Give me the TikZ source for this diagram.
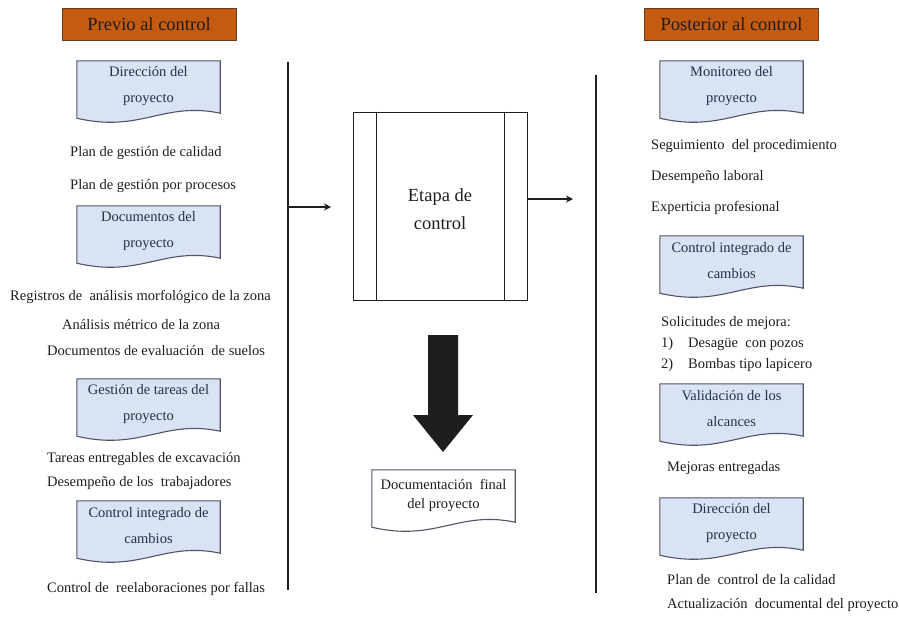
\documentclass[tikz,border=0pt]{standalone}
\usepackage{fontspec}
\setmainfont{Liberation Serif}
\usetikzlibrary{backgrounds,arrows.meta}
\definecolor{docfill}{HTML}{DAE3F3}
\definecolor{docline}{HTML}{4D5566}
\definecolor{docink}{HTML}{25304A}
\definecolor{headfill}{HTML}{C55A11}
\definecolor{headline}{HTML}{6B3A1A}
\definecolor{ink}{HTML}{1E1E1E}

% marco de documento (borde inferior ondulado) detras del nodo
\newcommand{\docframe}[2]{%
  \begin{pgfonlayer}{background}
  \draw[draw=docline, line width=1.1pt, fill=#2] (#1.north west) -- (#1.north east) -- ([yshift=-2pt]#1.south east)
    .. controls ([xshift=-57pt,yshift=10pt]#1.south east) and ([xshift=64pt,yshift=-22pt]#1.south west) .. ([yshift=-7pt]#1.south west) -- cycle;
  \end{pgfonlayer}}

\begin{document}
\begin{tikzpicture}[x=1pt,y=-1pt]
\tikzstyle{docbox}=[minimum width=143pt, minimum height=50pt, inner sep=2pt, align=center, text=docink, font=\fontsize{14.5}{26}\selectfont]
\tikzstyle{header}=[draw=headline, line width=0.8pt, fill=headfill, minimum width=174pt, minimum height=32pt, text=ink, font=\fontsize{18.5}{22}\selectfont]
\tikzstyle{item}=[anchor=west, inner sep=0pt, text=ink, font=\fontsize{14.5}{21}\selectfont]
\tikzstyle{bar}=[draw=ink, line width=1.6pt]
\tikzstyle{flow}=[draw=ink, line width=1.5pt, -{Stealth[length=7pt,width=7pt]}]
\useasboundingbox (0,0) rectangle (899,616);

% encabezados
\node[header] (previo) at (149,24) {Previo al control};
\node[header] (posterior) at (731.5,24) {Posterior al control};

% previo al control
\node[docbox] (dirA) at (148.5,86) {Dirección del\\proyecto};
\docframe{dirA}{docfill}
\node[item] (plancal) at (70,153) {Plan de gestión de calidad};
\node[item] (planproc) at (70,186) {Plan de gestión por procesos};
\node[docbox] (docproy) at (148.5,231) {Documentos del\\proyecto};
\docframe{docproy}{docfill}
\node[item] (registros) at (10,297) {Registros de \ análisis morfológico de la zona};
\node[item] (metrico) at (62,325) {Análisis métrico de la zona};
\node[item] (suelos) at (47,351) {Documentos de evaluación \ de suelos};
\node[docbox] (tareas) at (148.5,404) {Gestión de tareas del\\proyecto};
\docframe{tareas}{docfill}
\node[item] (entregables) at (47,459) {Tareas entregables de excavación};
\node[item] (trabajadores) at (47,483) {Desempeño de los \ trabajadores};
\node[docbox] (cambiosA) at (148.5,526) {Control integrado de\\cambios};
\docframe{cambiosA}{docfill}
\node[item] (reelab) at (47,589) {Control de \ reelaboraciones por fallas};

% etapa de control
\node[draw=ink, line width=0.9pt, minimum width=174pt, minimum height=188pt, text=ink] (etapa) at (440,206) {};
\node[align=center, text=ink, font=\fontsize{18.5}{28}\selectfont] (etapatxt) at (440,209) {Etapa de\\control};
\draw[draw=ink, line width=0.9pt] ([xshift=24pt]etapa.north west) -- ([xshift=24pt]etapa.south west);
\draw[draw=ink, line width=0.9pt] ([xshift=-23pt]etapa.north east) -- ([xshift=-23pt]etapa.south east);

\coordinate (ltop) at (288,62);
\coordinate (lbot) at (288,590);
\coordinate (lin) at (288,207);
\coordinate (lout) at (331,207);
\draw[bar] (ltop) -- (lbot);
\draw[flow] (lin) -- (lout);

\coordinate (rtop) at (596,75);
\coordinate (rbot) at (596,593);
\coordinate (rout) at (573,199);
\draw[bar] (rtop) -- (rbot);
\draw[flow] (etapa.east |- rout) -- (rout);

% flecha gruesa
\fill[ink] (428,335) -- (458,335) -- (458,415) -- (473,415) -- (443,452) -- (413,415) -- (428,415) -- cycle;

\node[docbox, text=ink, font=\fontsize{14.5}{19}\selectfont] (docfinal) at (443.5,495) {Documentación \ final\\del proyecto};
\docframe{docfinal}{white}

% posterior al control
\node[docbox] (monitoreo) at (731.5,86) {Monitoreo del\\proyecto};
\docframe{monitoreo}{docfill}
\node[item] (seguim) at (651,146) {Seguimiento \ del procedimiento};
\node[item] (laboral) at (651,177) {Desempeño laboral};
\node[item] (experticia) at (651,208) {Experticia profesional};
\node[docbox] (cambiosB) at (731.5,261) {Control integrado de\\cambios};
\docframe{cambiosB}{docfill}
\node[item, align=left, anchor=north west] (solicitudes) at (661,316) {Solicitudes de mejora:\\
  \makebox[27pt][l]{1)}Desagüe \ con pozos\\
  \makebox[27pt][l]{2)}Bombas tipo lapicero};
\node[docbox] (validacion) at (731.5,409) {Validación de los\\alcances};
\docframe{validacion}{docfill}
\node[item] (mejoras) at (667,468) {Mejoras entregadas};
\node[docbox] (dirB) at (731.5,523) {Dirección del\\proyecto};
\docframe{dirB}{docfill}
\node[item] (plancont) at (667,580) {Plan de \ control de la calidad};
\node[item] (actual) at (667,605) {Actualización \ documental del proyecto};
\end{tikzpicture}
\end{document}
